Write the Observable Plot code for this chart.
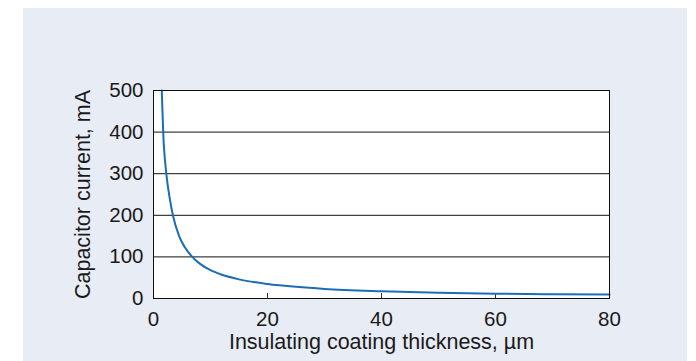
<!DOCTYPE html>
<html>
<head>
<meta charset="utf-8">
<script src="https://cdn.jsdelivr.net/npm/d3@7"></script>
<script src="https://cdn.jsdelivr.net/npm/@observablehq/plot@0.6"></script>
<style>
  html, body { margin: 0; padding: 0; background: #ffffff; }
  #wrap { position: relative; width: 696px; height: 361px; overflow: hidden; }
  #panel { position: absolute; left: 23px; top: 8px; width: 664px; height: 353px; background: #e8ecf5; }
  #chart { position: absolute; left: 0; top: 0; }
  #chart svg { background: transparent !important; }
</style>
</head>
<body>
<div id="wrap"><div id="panel"></div><div id="chart"></div></div>
<script>
// Insulating coating thickness (µm) and capacitor current (mA)
const thickness = [1.45, 1.7, 2.25, 2.8, 3.4, 4.5, 5.5, 6.8, 8, 10, 12, 15, 20, 25, 30, 40, 50, 60, 70, 80];
const current   = [500, 400, 300, 245, 200, 150, 123, 100, 85, 68, 57, 46, 35, 28, 23, 17.5, 14, 11.5, 10.3, 9.6];
const xTicks = [0, 20, 40, 60, 80];
const yTicks = [0, 100, 200, 300, 400, 500];
const gridLines = [100, 200, 300, 400];
const xTitle = "Insulating coating thickness, µm";
const yTitle = "Capacitor current, mA";

const data = thickness.map((t, i) => ({t, c: current[i]}));

const chart = Plot.plot({
  width: 696,
  height: 361,
  marginLeft: 153,
  marginRight: 87,
  marginTop: 90,
  marginBottom: 63,
  style: {fontFamily: "'Liberation Sans', Arial, sans-serif", background: "transparent", color: "#1a1a1a"},
  x: {domain: [0, 80]},
  y: {domain: [0, 500]},
  marks: [
    Plot.frame({fill: "white"}),
    Plot.ruleY(gridLines, {stroke: "#111", strokeWidth: 1}),
    Plot.axisX(xTicks, {tickSize: -5, tickFormat: null, text: null, stroke: "#333", label: null}),
    Plot.axisX(xTicks, {tickSize: 0, tickPadding: 13, fontSize: 20.5, label: null, fill: "#1a1a1a"}),
    Plot.axisY(yTicks, {tickSize: 0, tickPadding: 10, fontSize: 20.5, label: null, fill: "#1a1a1a"}),
    Plot.line(data, {x: "t", y: "c", stroke: "#1c6db5", strokeWidth: 2, curve: "monotone-x"}),
    Plot.frame({stroke: "#111", strokeWidth: 1}),
    Plot.text([xTitle], {frameAnchor: "bottom", dy: 50.5, fontSize: 21.5, fill: "#1a1a1a"}),
    Plot.text([yTitle], {frameAnchor: "left", textAnchor: "middle", dx: -70.5, rotate: -90, fontSize: 21.5, fill: "#1a1a1a"})
  ]
});
document.getElementById("chart").appendChild(chart);
</script>
</body>
</html>
